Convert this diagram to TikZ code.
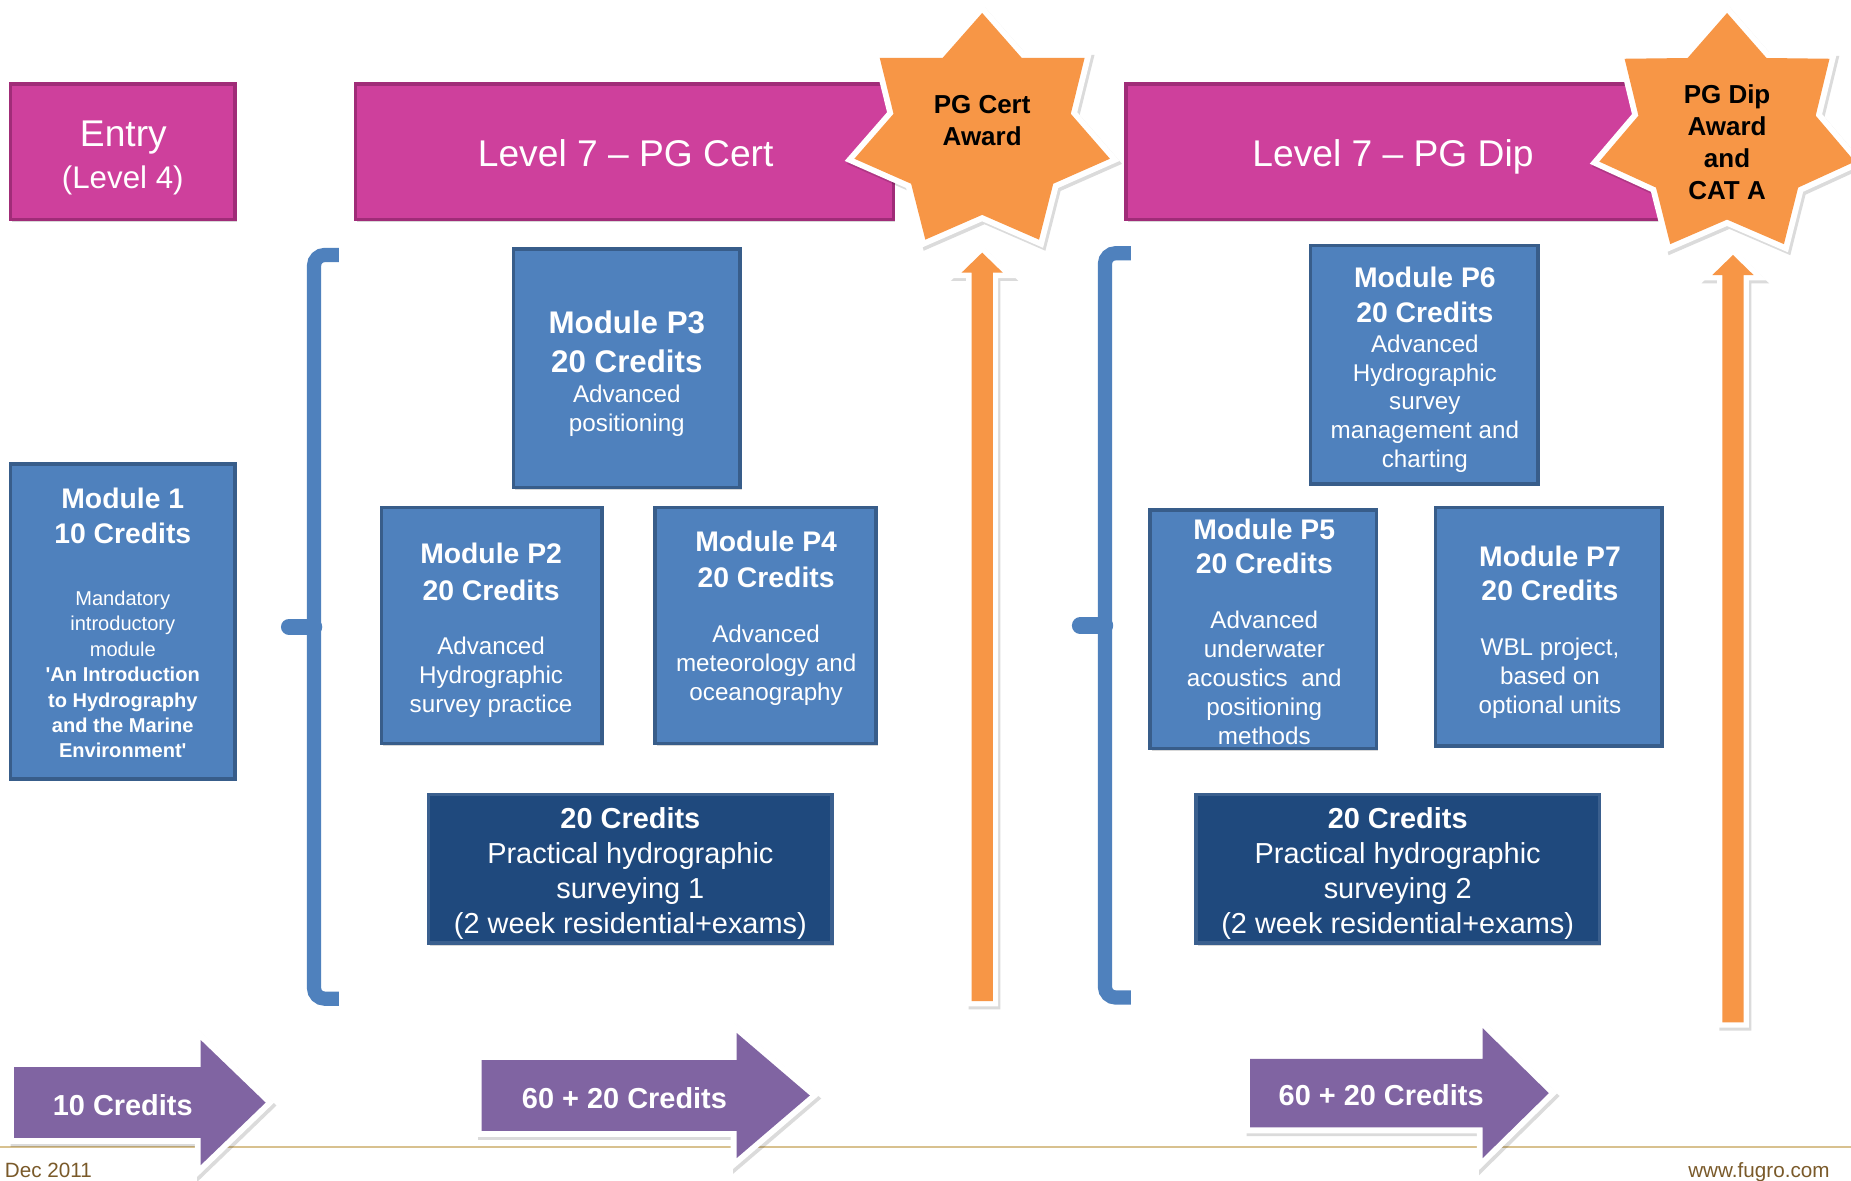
\documentclass[tikz,border=0pt]{standalone}
\usepackage{fontspec}
\setmainfont{Liberation Sans}
\usetikzlibrary{shadows}
\definecolor{magfill}{HTML}{CE409C}
\definecolor{magborder}{HTML}{A02C78}
\definecolor{modfill}{HTML}{4F81BD}
\definecolor{modborder}{HTML}{385D8A}
\definecolor{darkfill}{HTML}{1F497D}
\definecolor{darkborder}{HTML}{3A5F8E}
\definecolor{orangefill}{HTML}{F79646}
\definecolor{purplefill}{HTML}{8064A2}
\definecolor{footline}{HTML}{D8C18F}
\definecolor{foottext}{HTML}{7A5A2A}
\begin{document}
\begin{tikzpicture}[x=1pt,y=-1pt,
  boxshadow/.style={drop shadow={opacity=0.3, shadow xshift=1.5pt, shadow yshift=-2pt}},
  hdr/.style={draw=magborder, fill=magfill, line width=3, anchor=north west, inner sep=0, outer sep=0, boxshadow},
  modbox/.style={draw=modborder, fill=modfill, line width=3, anchor=north west, inner sep=0, outer sep=0, boxshadow},
  darkbox/.style={draw=darkborder, fill=darkfill, line width=3, anchor=north west, inner sep=0, outer sep=0, boxshadow},
  wborder/.style={preaction={draw=black, fill=black, opacity=0.14, line width=#1, line join=miter, transform canvas={xshift=2pt,yshift=-2.5pt}}, preaction={draw=white, line width=#1, line join=miter}},
  bracket/.style={draw=modfill, line width=12, rounded corners=9},
  nub/.style={draw=modfill, line width=14, line cap=round},
  hdrtxt/.style={text=white, inner sep=0, anchor=base, font=\fontsize{31.5}{36}\selectfont},
  ttl/.style={text=white, inner sep=0, anchor=base, align=center, font=\bfseries\fontsize{24}{30}\selectfont},
  bdy/.style={text=white, inner sep=0, anchor=base, align=center, font=\fontsize{20.5}{24.5}\selectfont},
  startxt/.style={text=black, inner sep=0, anchor=base, align=center, font=\bfseries\fontsize{22}{27}\selectfont},
  arrtxt/.style={text=white, inner sep=0, anchor=base, font=\bfseries\fontsize{24.5}{30}\selectfont},
  foot/.style={text=foottext, inner sep=0, font=\fontsize{17.5}{20}\selectfont}
]
\useasboundingbox (0,0) rectangle (1568,1000);
\fill[white] (0,0) rectangle (1568,1000);

% footer
\draw[footline, line width=1.5] (0,971.5) -- (1568,971.5);
\node[foot, anchor=base west] (date) at (4,997.5) {Dec 2011};
\node[foot, anchor=base east] (web) at (1550,997.5) {www.fugro.com};

% headers
\node[hdr, minimum width=190, minimum height=115] (entry) at (9,71) {};
\node[hdr, minimum width=456, minimum height=115] (pgcert) at (301,71) {};
\node[hdr, minimum width=470, minimum height=115] (pgdip) at (954,71) {};
\node[hdrtxt] (entryt) at (104.5,124) {Entry};
\node[hdrtxt, font=\fontsize{26.5}{30}\selectfont] (entrys) at (104,159.5) {(Level 4)};
\node[hdrtxt] (pgcertt) at (530,141) {Level 7 – PG Cert};
\node[hdrtxt] (pgdipt) at (1180,141) {Level 7 – PG Dip};

% brackets
\draw[bracket] (287,216) -- (266,216) -- (266,846) -- (287,846);
\draw[nub] (266,531) -- (245,531);
\draw[bracket] (958,214.5) -- (936,214.5) -- (936,845) -- (958,845);
\draw[nub] (936,530) -- (915,530);

% module boxes
\node[modbox, minimum width=190, minimum height=267] (m1) at (9,393) {};
\node[modbox, minimum width=192, minimum height=202] (p3) at (435,211) {};
\node[modbox, minimum width=187, minimum height=200] (p2) at (323,430) {};
\node[modbox, minimum width=187, minimum height=200] (p4) at (555,430) {};
\node[modbox, minimum width=193, minimum height=202] (p6) at (1110,208) {};
\node[modbox, minimum width=192, minimum height=202] (p5) at (974,432) {};
\node[modbox, minimum width=192, minimum height=202] (p7) at (1216,430) {};
\node[darkbox, minimum width=342, minimum height=126] (pr1) at (363,673) {};
\node[darkbox, minimum width=342, minimum height=126] (pr2) at (1013,673) {};

% module texts (anchor base = baseline of last line)
\node[ttl] (m1t) at (104,460.6) {Module 1\\10 Credits};
\node[bdy, font=\fontsize{17}{21.5}\selectfont] (m1b) at (104,642) {Mandatory\\introductory\\module\\\textbf{\textquotesingle An Introduction}\\\textbf{to Hydrography}\\\textbf{and the Marine}\\\textbf{Environment\textquotesingle}};
\node[ttl, font=\bfseries\fontsize{26.5}{33}\selectfont] (p3t) at (531,315.5) {Module P3\\20 Credits};
\node[bdy, font=\fontsize{20.5}{24}\selectfont] (p3b) at (531,365.3) {Advanced\\positioning};
\node[ttl, font=\bfseries\fontsize{24}{31}\selectfont] (p2t) at (416,508.6) {Module P2\\20 Credits};
\node[bdy] (p2b) at (416,603.3) {Advanced\\Hydrographic\\survey practice};
\node[ttl] (p4t) at (649,497.6) {Module P4\\20 Credits};
\node[bdy] (p4b) at (649,593.3) {Advanced\\meteorology and\\oceanography};
\node[ttl] (p6t) at (1207,273.6) {Module P6\\20 Credits};
\node[bdy] (p6b) at (1207,396.3) {Advanced\\Hydrographic\\survey\\management and\\charting};
\node[ttl, font=\bfseries\fontsize{24}{29}\selectfont] (p5t) at (1071,485.6) {Module P5\\20 Credits};
\node[bdy] (p5b) at (1071,630.3) {Advanced\\underwater\\acoustics\ \ and\\positioning\\methods};
\node[ttl, font=\bfseries\fontsize{24}{29}\selectfont] (p7t) at (1313,508.6) {Module P7\\20 Credits};
\node[bdy] (p7b) at (1313,604.3) {WBL project,\\based on\\optional units};
\node[bdy, font=\fontsize{24.5}{29.7}\selectfont] (pr1t) at (534,790.9) {\textbf{20 Credits}\\Practical hydrographic\\surveying 1\\(2 week residential+exams)};
\node[bdy, font=\fontsize{24.5}{29.7}\selectfont] (pr2t) at (1184,790.9) {\textbf{20 Credits}\\Practical hydrographic\\surveying 2\\(2 week residential+exams)};

% orange arrows
\path[wborder=9, fill=orangefill] (823,848) -- (823,231) -- (814.5,231) -- (832,214) -- (849.5,231) -- (841,231) -- (841,848) -- cycle;
\path[wborder=9, fill=orangefill] (1459,866) -- (1459,233) -- (1450.5,233) -- (1468,216) -- (1485.5,233) -- (1477,233) -- (1477,866) -- cycle;

% stars
\path[wborder=10, fill=orangefill] plot[samples at={0,1,...,13}, variable=\j]
  ({832+ifthenelse(mod(\j,2)==0,111,77)*cos(90+\j*25.7143)}, {112-ifthenelse(mod(\j,2)==0,101,70)*sin(90+\j*25.7143)}) -- cycle;
\path[wborder=10, fill=orangefill] plot[samples at={0,1,...,13}, variable=\j]
  ({1463+ifthenelse(mod(\j,2)==0,111,77)*cos(90+\j*25.7143)}, {114-ifthenelse(mod(\j,2)==0,103,72)*sin(90+\j*25.7143)}) -- cycle;
\node[startxt] (certaward) at (832,123) {PG Cert\\Award};
\node[startxt] (dipaward) at (1463,169) {PG Dip\\Award\\and\\CAT A};

% purple arrows
\path[wborder=10, fill=purplefill] (12,904) -- (170,904) -- (170,881) -- (225,934) -- (170,987) -- (170,964) -- (12,964) -- cycle;
\path[wborder=10, fill=purplefill] (408,898) -- (624,898) -- (624,875) -- (686,928) -- (624,981) -- (624,958) -- (408,958) -- cycle;
\path[wborder=10, fill=purplefill] (1059,897) -- (1256,897) -- (1256,871) -- (1312,926) -- (1256,981) -- (1256,955) -- (1059,955) -- cycle;
\node[arrtxt] (a1t) at (104,944.8) {10 Credits};
\node[arrtxt] (a2t) at (529,938.8) {60 + 20 Credits};
\node[arrtxt] (a3t) at (1170,936.8) {60 + 20 Credits};
\end{tikzpicture}
\end{document}
